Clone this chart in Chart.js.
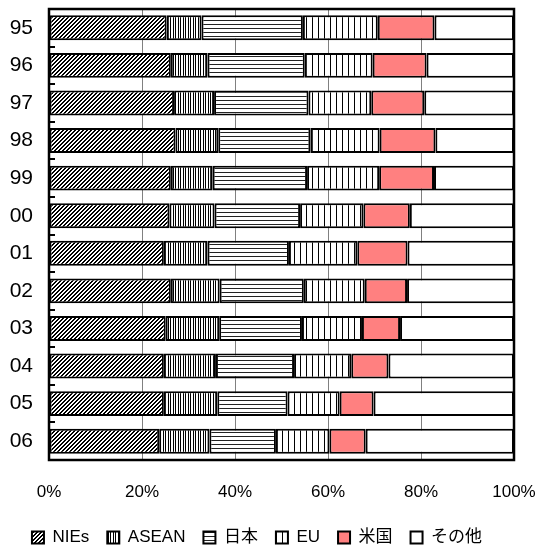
<!DOCTYPE html>
<html>
<head>
<meta charset="utf-8">
<script src="https://cdn.jsdelivr.net/npm/chart.js@4/dist/chart.umd.min.js"></script>
<style>
  html, body { margin: 0; padding: 0; background: #fff; }
  #wrap { width: 537px; height: 547px; }
</style>
</head>
<body>
<div id="wrap"><canvas id="c" width="537" height="547"></canvas></div>
<script>
// Share of exports by destination (%), one entry per year
const years  = ['95', '96', '97', '98', '99', '00', '01', '02', '03', '04', '05', '06'];
const nies   = [25.3, 26.2, 26.9, 27.2, 26.2, 25.9, 24.7, 26.2, 25.1, 24.7, 24.7, 23.7];
const asean  = [7.5, 7.9, 8.6, 9.2, 9.0, 9.7, 9.4, 10.5, 11.5, 11.2, 11.5, 10.8];
const japan  = [21.8, 20.9, 20.3, 19.8, 20.3, 18.4, 17.5, 18.1, 17.8, 16.8, 15.1, 14.3];
const eu     = [16.1, 14.6, 13.5, 14.9, 15.5, 13.6, 14.7, 13.1, 12.9, 12.3, 11.2, 11.5];
const us     = [12.2, 11.6, 11.4, 12.0, 11.8, 10.0, 10.8, 9.1, 8.2, 8.0, 7.3, 7.8];
const others = [17.1, 18.8, 19.3, 16.9, 17.2, 22.4, 22.9, 23.0, 24.5, 27.0, 30.2, 31.9];
const seriesNames = ['NIEs', 'ASEAN', '日本', 'EU', '米国', 'その他'];
const xTicks = [0, 20, 40, 60, 80, 100];

const FONT = "'Liberation Sans', 'Noto Sans CJK JP', sans-serif";

// Fill patterns (white ground with black hatching)
function tile(w, h, paint) {
  const c = document.createElement('canvas');
  c.width = w; c.height = h;
  const g = c.getContext('2d');
  g.fillStyle = '#fff';
  g.fillRect(0, 0, w, h);
  g.fillStyle = '#000';
  paint(g, w, h);
  return document.getElementById('c').getContext('2d').createPattern(c, 'repeat');
}
const diagPattern = tile(4, 4, (g, w, h) => {
  for (let y = 0; y < h; y++) for (let x = 0; x < w; x++) {
    const k = (x + y) % 4;
    if (k === 0 || k === 1) g.fillRect(x, y, 1, 1);
  }
});
const denseVertPattern = tile(5, 4, (g, w, h) => {
  g.fillRect(0, 0, 1, h);
  g.fillRect(3, 0, 1, h);
});
const horizPattern = tile(4, 4, (g, w, h) => {
  g.fillStyle = '#222';
  g.fillRect(0, 0, w, 1);
});
const sparseVertPattern = tile(6, 4, (g, w, h) => {
  g.fillRect(0, 0, 1, h);
});

const fills = [diagPattern, denseVertPattern, horizPattern, sparseVertPattern, '#FF8080', '#FFFFFF'];
const values = [nies, asean, japan, eu, us, others];

// Plot frame and short inward ticks between year rows
const framePlugin = {
  id: 'frame',
  afterDatasetsDraw(chart) {
    const { ctx, chartArea: a, scales: { y } } = chart;
    ctx.save();
    ctx.strokeStyle = '#000';
    ctx.lineWidth = 2;
    for (let i = 0; i < years.length - 1; i++) {
      const py = Math.round((y.getPixelForTick(i) + y.getPixelForTick(i + 1)) / 2);
      ctx.beginPath();
      ctx.moveTo(a.left, py);
      ctx.lineTo(a.left + 6, py);
      ctx.stroke();
    }
    ctx.lineWidth = 2.5;
    ctx.strokeRect(a.left, a.top, a.right - a.left, a.bottom - a.top);
    ctx.restore();
  }
};

new Chart(document.getElementById('c'), {
  type: 'bar',
  data: {
    labels: years,
    datasets: seriesNames.map((name, i) => ({
      label: name,
      data: values[i],
      backgroundColor: fills[i],
      borderColor: '#000',
      borderWidth: 2,
      borderSkipped: false,
      categoryPercentage: 1,
      barPercentage: 0.665
    }))
  },
  options: {
    indexAxis: 'y',
    responsive: false,
    animation: false,
    layout: { padding: { top: 9, right: 23, left: 0, bottom: -9 } },
    scales: {
      x: {
        stacked: true,
        min: 0,
        max: 100,
        afterBuildTicks: s => { s.ticks = xTicks.map(v => ({ value: v })); },
        afterFit: s => { s.height = 51; s.paddingLeft = 0; s.paddingRight = 0; },
        grid: { color: '#808080', lineWidth: 1, drawTicks: false },
        border: { display: false },
        ticks: {
          padding: 22,
          color: '#000',
          font: { family: FONT, size: 17 },
          callback: v => v + '%'
        }
      },
      y: {
        stacked: true,
        afterFit: s => { s.width = 49; s.paddingTop = 0; s.paddingBottom = 0; },
        grid: { display: false, drawTicks: false },
        border: { display: false },
        ticks: {
          padding: 16,
          color: '#000',
          font: { family: FONT, size: 21 }
        }
      }
    },
    plugins: {
      legend: {
        position: 'bottom',
        labels: {
          color: '#000',
          font: { family: FONT, size: 17 },
          boxWidth: 12,
          boxHeight: 12,
          padding: 18
        }
      },
      tooltip: { enabled: false }
    }
  },
  plugins: [framePlugin]
});
</script>
</body>
</html>
